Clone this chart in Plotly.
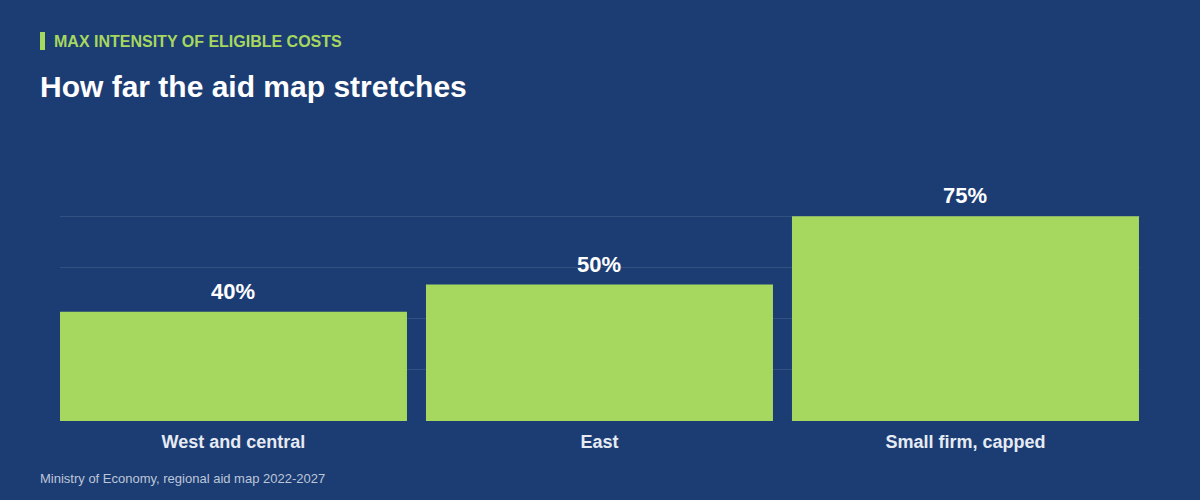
import plotly.graph_objects as go

categories = ["West and central", "East", "Small firm, capped"]
values = [40, 50, 75]
labels = ["40%", "50%", "75%"]
grid_vals = [18.75, 37.5, 56.25, 75]

BG = "#1c3d74"
GREEN = "#a6d75f"
FONT = "Liberation Sans, Arial, sans-serif"

fig = go.Figure()
fig.add_trace(go.Bar(
    x=categories, y=values,
    marker=dict(color=GREEN, line=dict(width=0)),
    hoverinfo="skip",
))

ann = [
    dict(text="<b>MAX INTENSITY OF ELIGIBLE COSTS</b>", xref="paper", yref="paper",
         x=-8/1080, y=(421-41)/273, xanchor="left", yanchor="middle", showarrow=False,
         font=dict(family=FONT, size=16, color=GREEN)),
    dict(text="<b>How far the aid map stretches</b>", xref="paper", yref="paper",
         x=-22/1080, y=(421-87)/273, xanchor="left", yanchor="middle", showarrow=False,
         font=dict(family=FONT, size=30, color="#ffffff")),
    dict(text="Ministry of Economy, regional aid map 2022-2027", xref="paper", yref="paper",
         x=-22/1080, y=(421-478)/273, xanchor="left", yanchor="middle", showarrow=False,
         font=dict(family=FONT, size=13, color="#bcc6d8")),
]
for c, v, t in zip(categories, values, labels):
    ann.append(dict(text=t, x=c, y=v, xref="x", yref="y", xanchor="center",
                    yanchor="bottom", yshift=6, showarrow=False,
                    font=dict(family=FONT, size=22, color="#ffffff", weight="bold")))

fig.update_layout(
    width=1200, height=500,
    paper_bgcolor=BG, plot_bgcolor=BG,
    margin=dict(l=60, r=60, t=148, b=79),
    bargap=19/366,
    showlegend=False,
    font=dict(family=FONT, color="#ffffff"),
    xaxis=dict(
        range=[-0.474, 1080/366 - 0.474],
        showgrid=False, showline=False, zeroline=False,
        ticks="", tickfont=dict(family=FONT, size=18, color="#e6ebf3", weight="bold"),
        ticklabelstandoff=8,
    ),
    yaxis=dict(
        range=[0, 100], tickvals=grid_vals, showticklabels=False,
        showgrid=True, gridcolor="rgba(255,255,255,0.10)", gridwidth=1,
        zeroline=False, showline=False,
    ),
    shapes=[dict(
        type="rect", xref="paper", yref="paper",
        x0=-20/1080, x1=-15/1080, y0=(500-79-32)/273, y1=(500-79-50)/273,
        fillcolor=GREEN, line=dict(width=0),
    )],
    annotations=ann,
)

fig.write_html("out.html")
